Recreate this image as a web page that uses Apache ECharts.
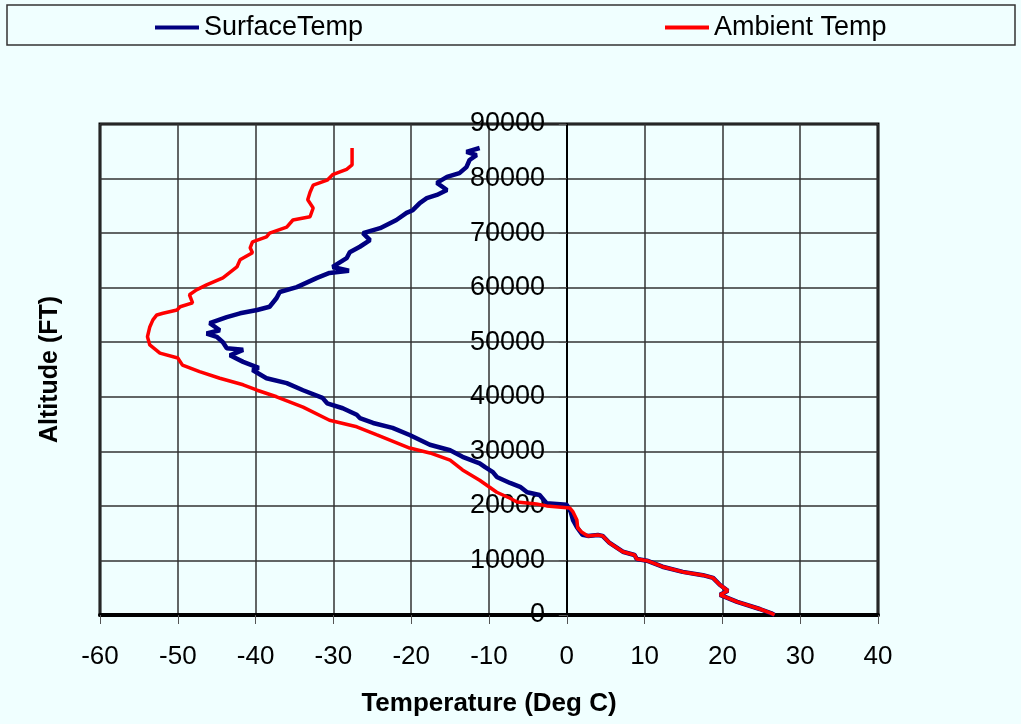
<!DOCTYPE html>
<html>
<head>
<meta charset="utf-8">
<script src="https://cdn.jsdelivr.net/npm/echarts@6/dist/echarts.min.js"></script>
<style>
  html, body { margin: 0; padding: 0; background: #F0FFFF; }
  #chart { width: 1021px; height: 724px; }
</style>
</head>
<body>
<div id="chart"></div>
<script>
// surface temperature profile (deg C vs altitude ft)
const surfaceTemp = [26.7, 26.3, 24.8, 21.9, 19.7, 20.7, 19.7, 18.8, 17.5, 14.9, 12.3, 10.3, 9.0, 8.7, 7.2, 5.5, 4.6, 4.0, 2.7, 2.0, 1.3, 0.8, 0.5, 0.0,
  -2.6, -3.5, -5.1, -6.0, -7.3, -9.0, -9.5, -10.5, -11.2, -13.4, -15.0, -17.6, -20.2, -22.4, -24.9, -26.6, -27.0, -28.8, -30.8, -31.4,
  -33.9, -36.0, -38.6, -40.4, -39.6, -41.6, -43.3, -41.6, -43.7, -44.2, -45.0, -46.3, -44.6, -45.9, -43.7, -42.0, -39.8, -38.2, -37.3,
  -36.9, -34.7, -32.1, -30.5, -28.0, -30.1, -28.3, -27.9, -26.6, -25.3, -26.2, -24.0, -21.9, -20.6, -19.8, -18.9, -18.0, -16.7, -15.4,
  -16.7, -15.4, -13.8, -12.9, -12.5, -11.6, -12.9, -11.2]
const surfaceAlt = [0, 300, 1100, 2400, 3700, 4450, 5500, 6800, 7300, 7900, 8850, 9950, 10250, 11000, 11600, 13200, 14500, 14650, 14500, 14700, 16100, 17400, 18900, 20200,
  20500, 22000, 22500, 23500, 24200, 25300, 26200, 27100, 27800, 29000, 30200, 31200, 33000, 34300, 35200, 36100, 36700, 37900, 38800, 39800,
  41200, 42500, 43400, 44900, 45300, 46400, 47600, 48600, 48900, 50000, 51000, 51600, 52200, 53500, 54600, 55300, 55900, 56500, 58100,
  59200, 60100, 61800, 62700, 63100, 63800, 65400, 66500, 67500, 68700, 70000, 70900, 72400, 73700, 74200, 75500, 76400, 77000, 77900,
  79200, 80300, 81000, 82100, 83400, 84300, 84900, 85600]

// ambient temperature profile
const ambientTemp = [26.7, 26.3, 24.8, 21.9, 19.7, 20.7, 19.7, 18.8, 17.5, 14.9, 12.3, 10.3, 9.0, 8.7, 7.2, 5.5, 4.6, 4.0, 2.7, 1.9, 1.4, 1.3, 0.8, 0.4,
  -2.6, -3.9, -6.4, -7.3, -9.0, -11.2, -13.4, -15.0, -17.6, -20.2, -24.4, -27.0, -30.5, -33.9, -37.3, -39.8, -41.6, -44.6, -47.2, -49.4,
  -50.0, -52.3, -53.6, -53.9, -53.6, -53.2, -52.7, -51.9, -50.1, -49.7, -48.1, -48.5, -47.6, -46.3, -44.2, -42.4, -42.0, -40.4, -40.7,
  -40.4, -38.6, -38.2, -36.0, -35.2, -33.0, -32.6, -33.3, -33.0, -32.6, -30.8, -30.1, -28.3, -27.6, -27.6]
const ambientAlt = [0, 300, 1100, 2400, 3700, 4450, 5500, 6800, 7300, 7900, 8850, 9950, 10250, 11000, 11600, 13200, 14500, 14650, 14500, 15200, 16000, 17400, 18900, 19600,
  20000, 20350, 20700, 21400, 22500, 24700, 26600, 28400, 29700, 30600, 33000, 34500, 35700, 38100, 40000, 41200, 42200, 43400, 44600, 45800,
  47100, 48000, 49500, 51000, 52800, 54100, 55000, 55300, 55900, 56500, 57200, 58700, 59600, 60500, 61800, 63800, 65100, 66400, 67300,
  68400, 69300, 70000, 71100, 72400, 73000, 74600, 76100, 77500, 78800, 79700, 80700, 81700, 82500, 85600]

const seriesNames = ['SurfaceTemp', 'Ambient Temp']

const pairs = (xs, ys) => xs.map((x, i) => [x, ys[i]])

const font = 'Arial, "Liberation Sans", sans-serif'
const chart = echarts.init(document.getElementById('chart'))

chart.setOption({
  animation: false,
  backgroundColor: '#F0FFFF',
  graphic: [
    {
      type: 'rect',
      shape: { x: 7, y: 5, width: 1008, height: 40 },
      style: { fill: 'none', stroke: '#333', lineWidth: 1.5 }
    }
  ],
  legend: [
    {
      data: [seriesNames[0]],
      left: 150,
      top: 9,
      icon: 'rect',
      itemWidth: 44,
      itemHeight: 4,
      itemGap: 0,
      textStyle: { fontFamily: font, fontSize: 27, color: '#000', lineHeight: 26 }
    },
    {
      data: [seriesNames[1]],
      left: 660,
      top: 9,
      icon: 'rect',
      itemWidth: 44,
      itemHeight: 4,
      itemGap: 0,
      textStyle: { fontFamily: font, fontSize: 27, color: '#000', lineHeight: 26 }
    }
  ],
  grid: {
    left: 100,
    right: 143,
    top: 124,
    bottom: 109,
    containLabel: false,
    outerBoundsMode: 'none',
    show: true,
    borderColor: '#000',
    borderWidth: 3,
    backgroundColor: '#F0FFFF'
  },
  xAxis: {
    type: 'value',
    min: -60,
    max: 40,
    interval: 10,
    name: 'Temperature (Deg C)',
    nameLocation: 'middle',
    nameGap: 76,
    nameTextStyle: { fontFamily: font, fontSize: 26, fontWeight: 'bold', color: '#000' },
    axisLine: { onZero: false, lineStyle: { color: '#000', width: 4 } },
    axisTick: { show: true, length: 9, lineStyle: { color: '#555', width: 1 } },
    axisLabel: { margin: 29, fontFamily: font, fontSize: 26, color: '#000', formatter: v => String(v) },
    splitLine: { show: true, lineStyle: { color: '#333', width: 1.5 } }
  },
  yAxis: {
    type: 'value',
    min: 0,
    max: 90000,
    interval: 10000,
    name: 'Altitude (FT)',
    nameLocation: 'middle',
    nameGap: 37,
    nameTextStyle: { fontFamily: font, fontSize: 25, fontWeight: 'bold', color: '#000' },
    axisLine: { show: true, onZero: true, lineStyle: { color: '#000', width: 2 } },
    axisTick: { show: true, length: 8, lineStyle: { color: '#555', width: 1 } },
    // labels sit beside the zero line, not at the grid edge
    axisLabel: { margin: -445, fontFamily: font, fontSize: 27, color: '#000', formatter: v => String(v) },
    splitLine: { show: true, lineStyle: { color: '#333', width: 1.5 } }
  },
  series: [
    {
      name: seriesNames[0],
      type: 'line',
      data: pairs(surfaceTemp, surfaceAlt),
      showSymbol: false,
      color: '#000080',
      lineStyle: { color: '#000080', width: 4.5 }
    },
    {
      name: seriesNames[1],
      type: 'line',
      data: pairs(ambientTemp, ambientAlt),
      showSymbol: false,
      color: '#FF0000',
      lineStyle: { color: '#FF0000', width: 3.5 }
    }
  ]
})
</script>
</body>
</html>
